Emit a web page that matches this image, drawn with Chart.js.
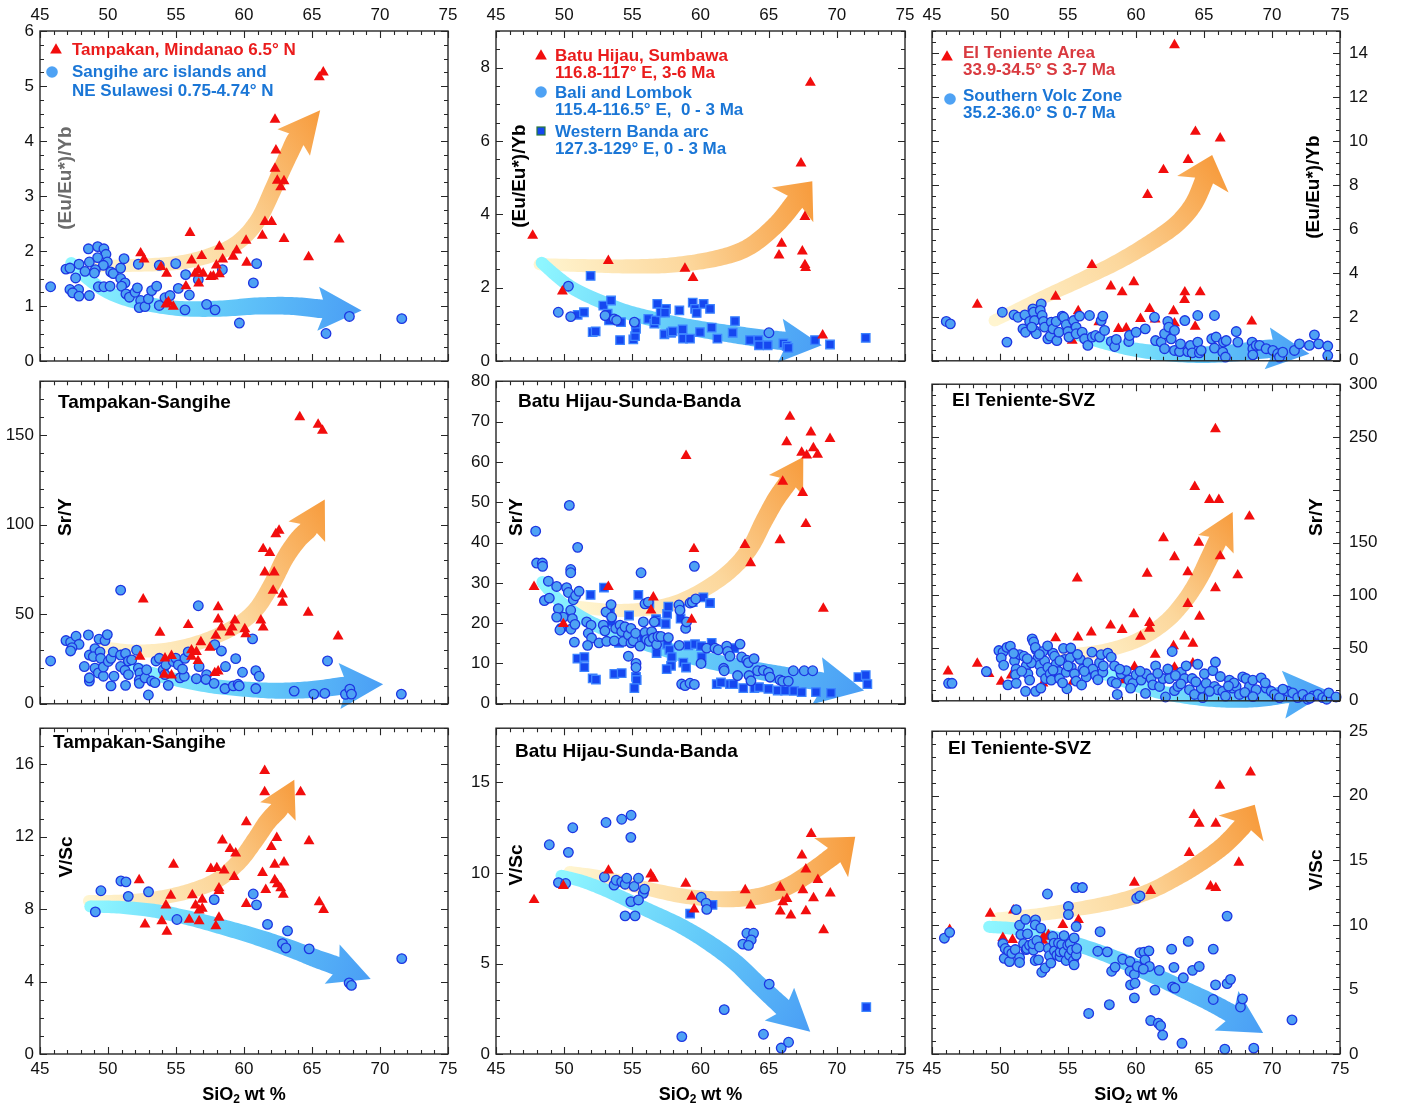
<!DOCTYPE html>
<html><head><meta charset="utf-8">
<script src="https://cdn.jsdelivr.net/npm/chart.js@4.4.1/dist/chart.umd.min.js"></script>
<style>
html,body{margin:0;padding:0;background:#fff;}
#wrap{position:relative;width:1404px;height:1107px;overflow:hidden;background:#fff;}
canvas{position:absolute;}
</style></head>
<body><div id="wrap"></div>
<script>
// ---------------- DATA ----------------
const SIO2_TICKS = [45,50,55,60,65,70,75];
const EU_TICKS_A = [0,1,2,3,4,5,6];
const EU_TICKS_B = [0,2,4,6,8];
const EU_TICKS_C = [0,2,4,6,8,10,12,14];
const SRY_TICKS_A = [0,50,100,150];
const SRY_TICKS_B = [0,10,20,30,40,50,60,70,80];
const SRY_TICKS_C = [0,50,100,150,250,300];
const VSC_TICKS_A = [0,4,8,12,16];
const VSC_TICKS_B = [0,5,10,15];
const VSC_TICKS_C = [0,5,10,15,20,25];

// (Eu/Eu*)/Yb
const tampakanEu = [[65.83,5.25],[65.54,5.16],[62.28,4.39],[62.35,3.83],[62.28,3.5],[62.45,3.28],[62.94,3.27],[62.7,3.16],[56.03,2.33],[61.54,2.53],[62.03,2.53],[61.35,2.28],[62.94,2.22],[67.0,2.21],[60.15,2.19],[58.19,2.08],[59.46,2.01],[52.4,1.96],[52.65,1.85],[56.89,1.91],[58.43,1.85],[64.75,1.89],[59.2,1.9],[56.15,1.83],[60.2,1.79],[57.97,1.74],[53.9,1.71],[56.64,1.65],[57.0,1.59],[54.31,1.59],[56.4,1.59],[57.75,1.54],[58.19,1.58],[57.55,1.53],[56.67,1.41],[55.73,1.36],[54.44,1.07],[54.26,1.03],[54.8,0.99]];
const sangiheEu = [[45.78,1.35],[46.91,1.67],[47.2,1.69],[47.87,1.76],[47.62,1.51],[48.31,1.63],[48.63,1.8],[48.56,2.04],[49.24,2.08],[49.7,2.04],[49.85,1.94],[49.24,1.88],[49.95,1.8],[49.66,1.74],[49.07,1.66],[49.0,1.6],[50.2,1.62],[50.39,1.59],[50.93,1.69],[51.18,1.86],[52.23,1.76],[47.2,1.3],[47.84,1.3],[47.4,1.24],[47.87,1.18],[48.63,1.19],[49.29,1.35],[49.7,1.35],[50.15,1.36],[50.93,1.5],[51.25,1.42],[51.0,1.36],[51.32,1.22],[51.57,1.16],[51.99,1.25],[52.16,1.33],[52.4,1.1],[52.3,0.97],[52.72,0.99],[52.97,1.13],[53.21,1.28],[53.58,1.36],[53.77,1.74],[53.77,1.01],[54.19,1.15],[54.56,1.19],[54.98,1.77],[55.17,1.32],[55.66,0.93],[55.71,1.57],[55.98,1.2],[56.64,1.48],[57.25,1.03],[57.87,0.93],[58.41,1.66],[59.66,0.69],[60.69,1.42],[60.93,1.77],[66.03,0.5],[67.75,0.81],[71.6,0.77]];
const batuEu = [[47.69,3.42],[53.24,2.73],[49.87,1.9],[58.86,2.52],[59.45,2.27],[68.06,7.59],[67.37,5.39],[67.66,3.93],[65.95,3.2],[65.76,2.88],[67.47,2.99],[67.66,2.62],[67.71,2.54],[68.96,0.7]];
const baliEu = [[49.57,1.33],[50.31,2.04],[50.48,1.21],[53.0,1.24],[53.66,1.15],[53.85,1.11],[55.15,1.06],[65.02,0.77]];
const bandaEu = [[51.94,2.32],[50.99,1.26],[51.45,1.33],[52.09,0.79],[52.31,0.81],[52.87,1.51],[53.44,1.65],[53.19,1.29],[53.29,1.11],[54.17,1.06],[54.1,0.57],[55.07,0.59],[55.2,0.68],[55.27,0.88],[55.25,1.02],[56.17,1.15],[56.61,1.02],[56.71,1.11],[56.83,1.56],[57.08,1.33],[57.47,1.42],[57.4,1.32],[57.35,0.73],[57.84,0.77],[57.96,0.81],[58.45,1.38],[58.69,0.86],[58.72,0.61],[59.23,0.61],[59.43,1.59],[59.6,1.42],[59.72,1.31],[59.96,0.79],[60.23,1.56],[60.7,1.42],[60.82,0.91],[61.24,0.61],[62.53,1.09],[62.36,0.77],[63.63,0.57],[64.24,0.57],[64.29,0.43],[64.93,0.43],[66.08,0.48],[66.32,0.41],[66.44,0.36],[68.4,0.57],[69.5,0.45],[72.12,0.63]];
const tenienteEu = [[62.83,14.36],[64.37,10.42],[66.19,10.12],[63.83,9.14],[62.02,8.68],[60.85,7.55],[56.76,4.36],[58.15,3.39],[59.84,3.58],[58.98,3.12],[54.09,2.92],[48.33,2.56],[63.59,3.12],[64.72,3.12],[63.57,2.77],[55.75,2.26],[61.0,2.36],[62.76,2.26],[60.33,1.91],[61.41,1.88],[68.51,1.79],[62.83,1.71],[57.27,1.76],[64.35,1.56],[58.71,1.45],[59.28,1.48],[55.31,0.92]];
const svzEu = [[46.05,1.79],[46.35,1.68],[50.17,2.21],[50.51,0.85],[51.03,2.09],[51.32,1.98],[51.83,2.09],[51.69,1.45],[51.88,1.3],[52.18,1.79],[52.42,2.36],[52.47,2.21],[52.54,1.83],[52.54,1.38],[52.67,1.23],[52.34,1.53],[53.03,2.59],[52.96,2.29],[53.1,2.06],[53.2,1.79],[53.28,1.53],[53.52,1.0],[53.69,1.12],[53.77,1.76],[53.89,1.45],[54.13,1.79],[54.18,0.92],[54.33,1.3],[54.58,2.03],[54.68,1.98],[54.87,1.64],[55.0,1.33],[55.07,1.08],[55.41,1.83],[55.6,1.53],[55.6,1.23],[55.85,2.03],[56.04,1.3],[56.22,1.0],[56.46,0.7],[56.58,2.06],[56.78,1.08],[57.03,1.15],[57.32,1.08],[57.44,1.83],[57.56,2.03],[57.69,1.38],[58.18,0.88],[58.43,0.65],[58.55,0.97],[59.47,0.88],[59.52,1.15],[60.01,1.3],[60.68,1.45],[61.36,1.98],[61.44,0.92],[61.85,0.85],[62.1,0.55],[62.1,1.23],[62.34,1.79],[62.41,1.53],[62.59,1.0],[62.83,1.38],[62.83,0.47],[63.2,0.42],[63.27,0.77],[63.59,1.83],[63.81,0.42],[64.0,0.7],[64.13,0.36],[64.54,0.85],[64.66,0.36],[64.79,0.47],[64.54,2.06],[65.57,1.0],[65.77,0.58],[65.89,1.08],[65.77,2.06],[66.38,0.39],[66.43,0.85],[66.63,0.92],[66.58,0.17],[67.37,1.33],[67.49,0.85],[68.54,0.85],[68.59,0.55],[68.59,0.27],[68.84,0.7],[69.08,0.7],[69.57,0.55],[70.06,0.47],[70.42,0.32],[70.55,0.17],[70.79,0.39],[71.65,0.47],[72.02,0.77],[72.75,0.7],[73.12,1.18],[73.43,0.77],[74.1,0.67],[74.1,0.24]];

// Sr/Y
const tampakanSr = [[64.1,160],[65.45,155.8],[65.77,152.5],[62.58,96.6],[62.34,94.7],[61.41,86.4],[61.9,84.2],[61.53,73.4],[62.22,73.4],[62.14,63.2],[62.83,61.1],[62.83,56.5],[52.59,58.3],[58.1,54.0],[64.72,50.9],[58.1,47.1],[59.33,46.6],[58.34,42.6],[61.24,46.6],[61.41,42.6],[59.13,42.6],[60.06,41.7],[60.13,38.9],[55.9,44.0],[53.82,39.7],[58.96,39.9],[57.93,38.0],[56.83,34.4],[57.49,31.3],[66.92,37.7],[56.14,29.9],[56.5,29.0],[52.35,26.3],[54.67,26.8],[54.19,25.4],[56.14,26.3],[56.62,23.9],[54.14,16.3],[54.67,15.9],[57.85,17.2],[58.1,18.1]];
const sangiheSr = [[45.78,23.9],[46.91,35.3],[47.25,34.4],[47.65,37.7],[47.87,33.2],[47.35,31.3],[47.25,29.5],[48.56,38.4],[49.34,36.1],[49.78,35.3],[49.95,38.6],[48.26,20.8],[48.63,27.2],[48.63,12.7],[48.63,14.5],[49.04,30.8],[48.92,26.3],[49.41,29.0],[49.46,25.4],[49.04,19.9],[49.29,17.2],[49.66,15.4],[49.66,20.5],[50.02,23.6],[50.22,25.4],[50.39,29.0],[50.44,15.4],[50.22,10.0],[50.93,63.4],[50.93,20.8],[50.93,27.2],[51.29,28.1],[51.25,18.7],[51.5,16.3],[51.5,23.9],[51.29,10.3],[51.74,24.5],[52.1,29.9],[52.23,19.9],[52.35,17.2],[52.3,13.2],[52.3,11.4],[52.72,14.5],[52.84,19.0],[52.97,4.9],[53.21,12.7],[53.45,11.8],[53.53,23.9],[53.77,25.4],[54.06,19.0],[54.19,16.3],[54.26,21.7],[54.43,10.3],[54.8,23.6],[54.98,25.5],[55.17,21.7],[55.29,14.5],[55.61,15.4],[55.48,19.4],[55.66,25.4],[55.9,29.0],[56.64,54.7],[56.5,14.0],[56.7,20.8],[57.25,16.3],[57.2,13.6],[57.8,11.4],[57.85,33.0],[58.34,29.5],[58.6,8.5],[58.64,20.8],[59.21,10.0],[59.39,25.2],[59.57,10.9],[59.65,10.0],[59.89,17.6],[60.63,36.2],[60.87,18.5],[61.12,15.4],[60.87,8.5],[63.69,7.1],[65.13,5.4],[65.94,5.8],[66.14,23.9],[67.46,5.3],[67.78,8.2],[67.9,5.4],[71.57,5.4]];
const batuSr = [[66.56,71.2],[68.1,67.3],[69.5,65.7],[66.32,64.9],[68.28,63.4],[67.42,62.3],[67.79,61.6],[68.59,61.8],[58.94,61.5],[66.03,55.1],[67.49,52.3],[67.73,44.6],[63.26,39.4],[65.83,40.6],[59.52,38.4],[63.68,34.9],[47.79,29.0],[53.24,29.0],[56.54,26.4],[56.37,23.2],[59.35,20.9],[69.01,23.6],[49.94,19.8]];
const baliSr = [[47.91,42.8],[50.38,49.2],[50.99,38.8],[47.98,34.9],[48.4,34.9],[48.42,34.1],[50.48,33.3],[50.48,32.5],[55.64,32.5],[59.55,34.1],[48.84,30.4],[48.55,25.6],[48.91,26.2],[49.45,29.1],[50.18,28.8],[50.31,27.6],[50.67,25.8],[50.84,26.8],[51.09,27.9],[49.57,23.6],[49.94,21.5],[49.45,21.5],[50.48,23.2],[50.6,21.1],[49.77,18.7],[49.69,18.3],[50.5,18.5],[50.79,19.7],[50.75,15.3],[51.65,20.3],[51.97,19.5],[51.77,17.5],[52.01,16.3],[51.72,14.5],[52.56,15.1],[52.87,19.5],[52.99,18.1],[53.07,22.8],[53.44,24.6],[53.48,21.5],[53.12,15.5],[53.68,15.6],[53.78,18.7],[54.1,19.5],[54.22,17.9],[54.34,15.5],[54.46,19.1],[54.71,17.1],[54.9,18.7],[54.9,15.1],[54.71,11.8],[55.27,10.0],[55.27,9.0],[55.07,15.6],[55.24,17.5],[55.56,14.3],[55.81,20.3],[55.93,24.8],[56.17,25.2],[55.93,17.7],[56.05,15.9],[56.25,15.5],[56.42,17.9],[56.54,16.3],[56.78,14.7],[56.61,20.3],[56.88,16.7],[57.1,16.7],[57.64,16.4],[58.42,24.5],[58.49,23.2],[58.44,14.5],[58.91,18.7],[58.98,20.3],[59.23,25.0],[59.4,25.2],[59.65,26.0],[60.04,10.0],[60.45,13.8],[61.06,13.8],[61.3,13.4],[61.7,8.8],[61.74,8.2],[61.92,14.3],[61.99,13.0],[62.16,11.8],[62.72,7.0],[62.9,14.8],[63.02,11.6],[63.39,10.8],[63.51,10.2],[63.93,11.2],[63.56,7.0],[63.7,5.7],[64.19,8.2],[64.61,8.3],[64.98,7.8],[65.1,6.6],[65.83,5.9],[66.03,5.6],[66.44,5.6],[66.81,8.2],[67.61,8.2],[68.23,8.2],[58.62,4.9],[58.87,4.5],[59.23,5.1],[59.55,4.8]];
const bandaSr = [[52.92,28.8],[51.94,27.0],[50.97,11.2],[51.48,11.6],[51.48,9.1],[52.09,6.3],[52.33,6.0],[53.68,7.4],[54.22,7.6],[53.36,22.6],[53.48,20.3],[54.02,15.1],[54.76,21.9],[55.27,6.7],[55.32,5.9],[55.15,3.9],[55.81,16.1],[55.44,27.0],[56.74,21.0],[56.78,20.3],[56.78,12.6],[56.25,24.8],[57.45,19.8],[57.55,22.3],[57.64,24.1],[57.55,14.7],[57.72,13.4],[57.89,11.6],[57.84,9.4],[57.52,8.6],[58.52,23.6],[58.54,21.1],[58.74,10.2],[58.94,9.0],[59.11,14.5],[59.6,14.8],[60.09,11.6],[60.04,14.3],[59.43,25.2],[60.21,26.4],[60.7,25.0],[60.82,15.1],[61.19,4.9],[61.5,5.3],[62.16,4.9],[62.41,4.9],[62.48,13.8],[63.14,3.9],[63.95,3.9],[64.29,4.1],[64.98,3.7],[65.66,3.3],[66.2,3.3],[66.86,3.2],[67.42,2.9],[68.47,2.9],[69.57,2.7],[71.58,6.6],[72.12,7.1],[72.24,4.9]];
const tenienteSr = [[65.84,257.5],[64.32,202.7],[65.4,190.4],[66.09,190.4],[68.34,174.7],[62.02,154.2],[64.62,150],[66.19,137],[62.83,136.1],[67.48,119],[55.68,116],[60.82,120.5],[63.81,122],[65.84,106.9],[63.81,91.9],[59.84,82.2],[64.67,79.8],[61.0,73.8],[61.0,68.4],[58.13,71.4],[58.98,67.2],[56.71,64.8],[54.09,59.3],[55.73,60.2],[60.33,60.8],[63.57,61.1],[64.18,54.2],[62.76,51.8],[61.41,43.7],[64.18,35.5],[62.83,31.6],[46.18,28.0],[48.33,35.2],[49.19,25.6],[50.09,18.1],[50.83,24.1],[53.16,16.6],[55.36,18.1],[59.11,19.6],[59.89,32.2]];
const svzSr = [[46.22,16.6],[46.47,16.6],[49.92,47.6],[50.22,46.1],[50.51,50.6],[50.76,51.8],[50.09,40.7],[50.27,33.7],[50.58,15.1],[49.0,27.7],[51.07,37.7],[51.19,30.1],[51.14,24.7],[51.19,16.6],[51.44,43.7],[51.76,42.2],[51.88,9.0],[51.93,33.1],[52.05,25.6],[52.18,19.6],[52.37,58.7],[52.47,55.7],[52.67,48.2],[52.6,50.6],[52.62,9.0],[52.79,40.7],[52.91,33.7],[53.03,27.1],[53.16,46.7],[53.28,37.7],[53.35,21.1],[53.52,31.6],[53.69,25.6],[53.77,19.6],[53.89,45.2],[54.01,42.2],[54.13,34.6],[54.33,27.7],[54.38,21.1],[54.67,49.7],[54.75,39.2],[54.87,27.1],[54.92,11.4],[55.16,40.7],[55.24,31.6],[55.48,25.6],[55.6,18.7],[55.9,39.2],[56.09,30.1],[56.34,22.6],[56.46,36.1],[56.76,46.1],[56.83,30.1],[57.03,24.1],[57.32,36.1],[57.44,43.7],[57.56,27.1],[57.93,45.2],[58.18,41.3],[58.25,18.1],[58.55,16.6],[58.62,6.0],[58.42,33.1],[58.91,25.6],[59.28,28.6],[59.47,19.6],[59.77,16.6],[60.01,24.7],[60.38,19.6],[60.75,25.6],[61.11,21.1],[61.24,15.1],[61.44,33.1],[61.73,13.6],[61.98,21.1],[62.17,3.6],[62.34,30.1],[62.46,21.1],[62.66,46.7],[62.83,9.6],[63.08,13.6],[63.32,27.1],[63.57,21.1],[63.69,33.1],[63.93,10.5],[64.13,21.1],[64.3,6.0],[64.54,34.6],[64.79,12.0],[65.03,25.6],[65.16,16.6],[65.65,28.6],[65.84,36.7],[65.77,13.6],[66.01,10.5],[66.38,9.0],[66.58,4.5],[66.87,19.6],[67.11,12.0],[67.36,13.6],[67.6,6.0],[67.85,22.6],[68.09,21.1],[68.34,13.6],[68.59,19.6],[68.83,10.5],[69.2,21.7],[69.57,12.0],[69.94,9.0],[70.18,6.0],[70.55,3.0],[71.16,9.0],[71.52,7.5],[71.89,3.0],[72.26,6.0],[72.63,1.5],[73.0,4.5],[73.37,6.0],[73.73,3.0],[74.02,1.5],[74.17,7.5],[74.71,3.6],
 [51.6,28],[52.3,36],[52.9,44],[53.5,52],[54.4,38],[55.0,33],[55.7,44],[56.2,28],[52.0,40],[53.9,29],[54.6,17],[56.0,15],[57.2,20],[58.8,30],[60.3,28],[61.6,26],[62.9,24],[64.4,18],[65.4,9],[66.2,23],[67.2,17],[68.0,8],[69.5,17],[70.8,11],[72.8,2.5],[51.0,45],[53.0,12],[55.2,50],[57.6,33],[59.6,12],[60.7,7],[63.3,16],[64.9,3],[66.8,14],[68.6,4]];

// V/Sc
const tampakanV = [[61.52,15.64],[61.52,14.47],[64.16,14.47],[60.17,12.81],[58.41,11.81],[64.78,11.76],[62.41,11.94],[58.97,11.33],[59.39,11.09],[62.01,11.45],[54.82,10.46],[57.56,10.23],[58.0,10.28],[58.54,10.14],[62.94,10.59],[62.26,10.46],[61.36,10.01],[59.28,9.79],[52.29,9.61],[62.26,9.61],[62.45,9.38],[62.7,9.16],[61.6,9.07],[58.16,9.16],[62.89,8.8],[58.16,9.02],[56.2,8.78],[56.93,8.53],[54.62,8.75],[60.17,8.3],[56.44,8.21],[65.53,8.39],[65.85,7.97],[54.26,8.21],[56.93,8.03],[56.7,7.94],[58.16,7.54],[55.97,7.43],[56.7,7.34],[53.96,7.34],[52.72,7.16],[57.93,7.07],[54.33,6.76]];
const sangiheV = [[49.07,7.85],[49.48,9.02],[50.95,9.56],[51.32,9.51],[51.49,8.71],[52.98,8.96],[55.07,7.43],[57.81,8.53],[60.68,8.84],[60.92,8.24],[61.73,7.16],[63.2,6.8],[62.83,6.1],[63.08,5.86],[64.79,5.81],[67.73,3.93],[67.9,3.79],[71.6,5.27]];
const batuV = [[47.79,8.51],[49.94,9.29],[53.25,10.14],[56.35,9.93],[56.54,9.69],[58.92,9.42],[59.36,8.7],[59.53,7.99],[63.28,9.06],[63.69,8.21],[65.85,9.2],[66.04,8.39],[65.85,7.88],[66.34,8.57],[66.63,7.66],[67.44,10.98],[67.51,9.06],[67.73,10.2],[67.73,7.9],[68.12,12.16],[68.29,8.62],[68.61,9.62],[69.52,8.88],[69.03,6.85]];
const baliV = [[48.91,11.56],[49.58,9.47],[50.11,9.42],[50.31,11.14],[50.63,12.5],[53.07,12.79],[54.22,12.97],[54.91,13.19],[54.89,11.97],[52.95,9.78],[53.66,9.33],[53.81,9.6],[54.22,9.51],[54.47,9.38],[54.59,9.71],[55.13,9.26],[55.45,9.71],[55.81,8.88],[55.89,9.11],[54.89,8.42],[55.45,8.51],[54.47,7.63],[55.2,7.63],[60.05,8.66],[60.41,8.33],[60.46,7.99],[63.11,6.07],[63.4,6.67],[63.89,6.67],[63.72,6.3],[63.52,6.0],[65.04,3.86],[61.74,2.45],[58.63,0.96],[64.62,1.09],[65.92,0.33],[66.46,0.65]];
const bandaV = [[59.24,7.75],[60.88,8.24],[72.16,2.59]];
const tenienteV = [[68.42,21.81],[66.17,20.78],[64.26,18.52],[64.65,17.84],[65.87,17.84],[63.91,15.58],[67.56,14.82],[59.88,13.27],[61.08,12.64],[65.48,12.99],[65.87,12.86],[49.28,10.88],[50.99,11.13],[55.77,10.38],[54.62,10.0],[46.3,9.62],[50.21,8.99],[50.92,8.84],[53.2,9.1],[53.56,9.22],[53.15,8.79]];
const svzV = [[45.91,8.97],[46.3,9.42],[50.21,8.54],[50.31,7.41],[50.7,7.16],[50.38,8.17],[50.63,7.99],[50.87,7.79],[51.19,11.18],[51.12,8.09],[51.44,9.97],[51.44,7.46],[51.44,7.09],[51.53,9.25],[51.73,8.54],[51.92,8.09],[51.88,10.43],[52.02,9.3],[51.97,8.17],[52.17,8.42],[52.46,8.04],[52.41,8.54],[52.61,10.38],[52.59,10.0],[52.59,7.24],[52.83,7.29],[52.71,8.79],[52.9,8.29],[53.0,9.75],[53.07,6.33],[53.32,6.66],[53.49,12.39],[53.56,8.17],[53.64,7.61],[53.74,7.04],[53.88,9.1],[53.98,8.59],[54.0,7.99],[54.18,7.66],[54.3,8.59],[54.42,7.54],[54.42,7.91],[54.54,8.47],[54.71,9.17],[54.71,7.91],[54.86,7.24],[54.98,8.42],[55.03,11.43],[55.03,10.8],[55.1,7.66],[55.15,8.54],[55.28,8.04],[55.4,7.24],[55.45,6.91],[55.45,8.99],[55.6,7.66],[55.64,8.17],[55.59,12.89],[56.06,12.89],[55.6,9.87],[57.36,9.47],[57.19,7.96],[57.89,7.91],[58.04,3.82],[56.52,3.14],[58.21,6.41],[58.46,6.73],[59.02,7.34],[59.56,7.16],[59.56,6.41],[59.6,5.35],[59.88,6.16],[59.93,5.48],[59.88,4.35],[60.05,12.06],[60.29,12.24],[60.1,6.78],[60.29,7.84],[60.59,7.89],[60.66,7.29],[60.95,7.99],[60.98,6.78],[60.54,6.58],[61.08,2.59],[61.39,4.95],[61.71,6.48],[61.64,2.39],[61.81,2.19],[61.96,1.46],[62.62,8.12],[62.79,6.71],[62.69,5.2],[62.86,5.1],[63.38,0.83],[63.48,5.9],[63.84,8.72],[64.16,6.48],[64.65,6.78],[65.68,8.12],[65.68,4.22],[65.85,5.35],[66.7,10.68],[66.53,0.38],[66.7,5.45],[66.95,5.78],[67.68,3.64],[67.83,4.27],[68.66,0.45],[71.47,2.64]];

// Trend arrows: centre-line points (SiO2, value); the last two points are head base and tip
const tampakanEuTrend = [[49.2,1.72],[52,1.74],[55,1.78],[57.5,1.92],[59.5,2.15],[61,2.55],[62.1,3.1],[63.0,3.6],[63.75,4.0],[65.6,4.56]];
const sangiheEuTrend = [[47.3,1.78],[48.5,1.5],[50,1.25],[52,1.08],[55,0.96],[58,0.95],[61,1.0],[63.5,1.0],[65.6,0.95],[68.65,0.92]];
const batuEuTrend = [[48.2,2.64],[51.5,2.6],[55,2.58],[58,2.62],[61.2,2.8],[63.5,3.1],[65.5,3.7],[66.85,4.3],[68.2,4.9]];
const baliEuTrend = [[48.35,2.68],[49.5,2.3],[50.8,1.95],[52.5,1.65],[54.5,1.35],[57,1.1],[59.5,0.9],[62,0.75],[64.2,0.63],[66.0,0.55],[68.9,0.43]];
const tenienteEuTrend = [[49.6,1.83],[52.5,2.7],[55.5,3.55],[58.5,4.45],[61,5.35],[62.95,6.2],[64.2,7.1],[64.96,8.12],[65.6,9.36]];
const svzEuTrend = [[55.4,1.25],[57.5,0.85],[60,0.5],[63,0.3],[66,0.3],[69.8,0.55],[72.75,0.32]];
const tampakanSrTrend = [[49.6,31.5],[52,29.5],[54.5,30.5],[57,35],[59.2,42.5],[60.8,52],[62,66],[63.0,81],[63.9,91],[64.69,97],[65.94,114]];
const sangiheSrTrend = [[51.4,21.5],[53,17.5],[55,13.5],[57.5,10],[60,8.2],[62.5,7.3],[65,8],[67.17,10],[70.23,10.9]];
const batuSrTrend = [[51.1,24],[53.5,23.2],[56,23.5],[58.5,25.5],[60.8,29.5],[62.5,34],[63.7,39],[64.6,45],[65.5,50.5],[66.35,54.6],[67.54,61.2]];
const baliSrTrend = [[48.4,30.2],[49.5,26],[51,22],[53,18.5],[55.5,15.5],[58.5,12.5],[61.5,10],[64.5,8],[66.8,6.6],[68.7,5.6],[72.0,3.3]];
const tenienteSrTrend = [[54.6,43],[57.8,48],[60.2,58],[62.2,75],[63.6,95],[64.6,115],[65.3,133],[65.94,150],[67.11,179]];
const svzSrTrend = [[57.8,25],[59.5,17],[61.5,9],[64,3.5],[66.5,1],[69,2],[71.0,6],[74.2,9]];
const tampakanVTrend = [[48.6,8.45],[51,8.45],[53.5,8.6],[56,9.0],[58,9.6],[59.6,10.6],[60.8,11.8],[61.7,12.8],[62.56,13.5],[63.7,15.15]];
const sangiheVTrend = [[48.7,8.15],[51,8.1],[53.5,7.9],[56,7.5],[58.5,7.0],[61,6.45],[63.5,5.8],[65.2,5.3],[66.62,4.92],[69.32,4.15]];
const batuVTrend = [[50.4,10.05],[53,9.75],[56,9.15],[59,8.7],[62,8.55],[64.5,8.75],[66.5,9.3],[68.2,10.1],[69.69,10.92],[71.35,12.0]];
const baliVTrend = [[49.8,9.85],[51.5,9.5],[53.5,8.9],[56,8.0],[58.5,7.1],[60.5,6.2],[62.5,5.1],[64.3,3.8],[65.9,2.68],[68.05,1.23]];
const tenienteVTrend = [[49.8,10.5],[52.5,10.75],[55.5,11.2],[58.5,11.8],[61,12.6],[63.2,13.8],[65,15.0],[66.5,16.2],[67.8,17.6],[68.73,19.3]];
const svzVTrend = [[49.2,9.85],[51.5,9.65],[54,9.0],[56.5,8.2],[59,7.2],[61.5,6.0],[63.5,5.0],[65.3,4.1],[66.78,3.27],[69.35,1.63]];

// ---------------- STYLE / LAYOUT ----------------
const FONT = "'Liberation Sans', Arial, Helvetica, sans-serif";
const RED = '#f20d0d', CF = '#4ea2f4', CE = '#1d36e2', SF = '#1547f0', SE = '#3d84ff';
const ORANGE = ['#fff5d0', '#fcd79c', '#f79b3c'];
const BLUE = ['#8ef6ff', '#64cbf9', '#4a9ef5'];
const ROWS = [
  {top:0,   h:380, padTop:0,  padBottom:19, xpos:'top',    xh:31},
  {top:365, h:355, padTop:12, padBottom:12, xpos:'none',   xh:0},
  {top:712, h:395, padTop:10, padBottom:0,  xpos:'bottom', xh:53}
];
const COLS = [
  {left:0,   w:470, padLeft:0,  padRight:22, ypos:'left',  yw:40},
  {left:455, w:470, padLeft:0,  padRight:20, ypos:'left',  yw:41},
  {left:915, w:489, padLeft:17, padRight:0,  ypos:'right', yw:64}
];

const LRED = '#ea1c1c', LBLUE = '#1a76d6', LRED3 = '#d93a40';
const PANELS = [
  {row:0,col:0,ymin:0,ymax:6,labels:EU_TICKS_A,major:1,minor:0.25,
   sets:[[tampakanEu,'tri'],[sangiheEu,'circ']], topFirst:'tri',
   arrows:[[tampakanEuTrend,ORANGE,12,19,42],[sangiheEuTrend,BLUE,12,19,44]],
   ytitle:['(Eu/Eu*)/Yb',66,178,'#6b6b6b'],
   legend:[['tri',56,50,LRED,[['Tampakan, Mindanao 6.5° N',72,50]]],
           ['circ',52,72,LBLUE,[['Sangihe arc islands and',72,72],['NE Sulawesi 0.75-4.74° N',72,91]]]]},
  {row:0,col:1,ymin:0,ymax:9,labels:EU_TICKS_B,major:2,minor:0.5,
   sets:[[batuEu,'tri'],[baliEu,'circ'],[bandaEu,'sq']], topFirst:'tri',
   arrows:[[batuEuTrend,ORANGE,12,19,54],[baliEuTrend,BLUE,12,19,44]],
   ytitle:['(Eu/Eu*)/Yb',520,176,'#000'],
   legend:[['tri',541,56,LRED,[['Batu Hijau, Sumbawa',555,56],['116.8-117° E, 3-6 Ma',555,73]]],
           ['circ',541,92,LBLUE,[['Bali and Lombok',555,93],['115.4-116.5° E,  0 - 3 Ma',555,110]]],
           ['sq',541,131,LBLUE,[['Western Banda arc',555,132],['127.3-129° E, 0 - 3 Ma',555,149]]]]},
  {row:0,col:2,ymin:0,ymax:15,labels:EU_TICKS_C,major:2,minor:0.5,
   sets:[[tenienteEu,'tri'],[svzEu,'circ']], topFirst:'circ',
   arrows:[[tenienteEuTrend,ORANGE,12,19,54],[svzEuTrend,BLUE,12,19,42]],
   ytitle:['(Eu/Eu*)/Yb',1314,187,'#000'],
   legend:[['tri',947,57,LRED3,[['El Teniente Area',963,53],['33.9-34.5° S 3-7 Ma',963,70]]],
           ['circ',950,99,LBLUE,[['Southern Volc Zone',963,96],['35.2-36.0° S 0-7 Ma',963,113]]]]},
  {row:1,col:0,ymin:0,ymax:180,labels:SRY_TICKS_A,major:50,minor:10,
   sets:[[tampakanSr,'tri'],[sangiheSr,'circ']], topFirst:'tri',
   arrows:[[tampakanSrTrend,ORANGE,12,19,42],[sangiheSrTrend,BLUE,12,18,46]],
   ytitle:['Sr/Y',66,517,'#000'], title:['Tampakan-Sangihe',58,403]},
  {row:1,col:1,ymin:0,ymax:80,labels:SRY_TICKS_B,major:10,minor:5,
   sets:[[batuSr,'tri'],[baliSr,'circ'],[bandaSr,'sq']], topFirst:'tri',
   arrows:[[batuSrTrend,ORANGE,12,19,40],[baliSrTrend,BLUE,12,19,48]],
   ytitle:['Sr/Y',517,517,'#000'], title:['Batu Hijau-Sunda-Banda',518,402]},
  {row:1,col:2,ymin:0,ymax:300,labels:SRY_TICKS_C,major:50,minor:10,
   sets:[[tenienteSr,'tri'],[svzSr,'circ']], topFirst:'circ',
   arrows:[[tenienteSrTrend,ORANGE,12,19,40],[svzSrTrend,BLUE,12,18,48]],
   ytitle:['Sr/Y',1317,517,'#000'], title:['El Teniente-SVZ',952,401]},
  {row:2,col:0,ymin:0,ymax:18,labels:VSC_TICKS_A,major:4,minor:1,
   sets:[[tampakanV,'tri'],[sangiheV,'circ']], topFirst:'tri',
   arrows:[[tampakanVTrend,ORANGE,12,19,40],[sangiheVTrend,BLUE,12,19,42]],
   ytitle:['V/Sc',67,857,'#000'], title:['Tampakan-Sangihe',53,743]},
  {row:2,col:1,ymin:0,ymax:18,labels:VSC_TICKS_B,major:5,minor:1,
   sets:[[batuV,'tri'],[baliV,'circ'],[bandaV,'sq']], topFirst:'tri',
   arrows:[[batuVTrend,ORANGE,12,19,52],[baliVTrend,BLUE,12,19,44]],
   ytitle:['V/Sc',517,865,'#000'], title:['Batu Hijau-Sunda-Banda',515,752]},
  {row:2,col:2,ymin:0,ymax:25,labels:VSC_TICKS_C,major:5,minor:1,
   sets:[[tenienteV,'tri'],[svzV,'circ']], topFirst:'circ',
   arrows:[[tenienteVTrend,ORANGE,12,19,52],[svzVTrend,BLUE,12,19,46]],
   ytitle:['V/Sc',1317,870,'#000'], title:['El Teniente-SVZ',948,749]}
];

// ---------------- DRAW HELPERS ----------------
function catmull(pts){
  const out=[];
  for(let i=0;i<pts.length-1;i++){
    const p0=pts[Math.max(0,i-1)],p1=pts[i],p2=pts[i+1],p3=pts[Math.min(pts.length-1,i+2)];
    for(let k=0;k<14;k++){
      const t=k/14,t2=t*t,t3=t2*t;
      const f=(a,b,c,d)=>0.5*((2*b)+(-a+c)*t+(2*a-5*b+4*c-d)*t2+(-a+3*b-3*c+d)*t3);
      out.push([f(p0[0],p1[0],p2[0],p3[0]),f(p0[1],p1[1],p2[1],p3[1])]);
    }
  }
  out.push(pts[pts.length-1]);
  return out;
}
function drawArrow(ctx,xs,ys,spec){
  const [path,cols,w0,w1,headW]=spec;
  const P=path.map(([x,y])=>[xs.getPixelForValue(x),ys.getPixelForValue(y)]);
  const tip=P[P.length-1], base=P[P.length-2];
  let dx=tip[0]-base[0], dy=tip[1]-base[1]; const L=Math.hypot(dx,dy); const ux=dx/L, uy=dy/L;
  const shaft=P.slice(0,-1);
  const S=catmull(shaft);
  S.push([base[0]+ux*L*0.3, base[1]+uy*L*0.3]);
  const cum=[0]; for(let i=1;i<S.length;i++) cum.push(cum[i-1]+Math.hypot(S[i][0]-S[i-1][0],S[i][1]-S[i-1][1]));
  const tot=cum[cum.length-1];
  const Lp=[],Rp=[];
  for(let i=0;i<S.length;i++){
    const a=S[Math.max(0,i-1)], b=S[Math.min(S.length-1,i+1)];
    let tx=b[0]-a[0], ty=b[1]-a[1]; const tl=Math.hypot(tx,ty)||1; tx/=tl; ty/=tl;
    const w=(w0+(w1-w0)*cum[i]/tot)/2;
    Lp.push([S[i][0]-ty*w, S[i][1]+tx*w]); Rp.push([S[i][0]+ty*w, S[i][1]-tx*w]);
  }
  const g=ctx.createLinearGradient(P[0][0],P[0][1],tip[0],tip[1]);
  g.addColorStop(0,cols[0]); g.addColorStop(0.5,cols[1]); g.addColorStop(1,cols[2]);
  ctx.save(); ctx.fillStyle=g;
  ctx.beginPath(); ctx.moveTo(Lp[0][0],Lp[0][1]);
  for(let i=1;i<Lp.length;i++) ctx.lineTo(Lp[i][0],Lp[i][1]);
  for(let i=Rp.length-1;i>=0;i--) ctx.lineTo(Rp[i][0],Rp[i][1]);
  ctx.closePath(); ctx.fill();
  ctx.beginPath(); ctx.arc(S[0][0],S[0][1],w0/2,0,Math.PI*2); ctx.fill();
  const nx=-uy, ny=ux, hw=headW/2;
  ctx.beginPath(); ctx.moveTo(tip[0],tip[1]);
  ctx.lineTo(base[0]+nx*hw-ux*2, base[1]+ny*hw-uy*2);
  ctx.lineTo(base[0]+ux*L*0.14, base[1]+uy*L*0.14);
  ctx.lineTo(base[0]-nx*hw-ux*2, base[1]-ny*hw-uy*2);
  ctx.closePath(); ctx.fill();
  ctx.restore();
}
function marker(ctx,kind,x,y){
  ctx.save();
  if(kind==='tri'){ ctx.fillStyle=RED; const r=6.8; ctx.beginPath(); ctx.moveTo(x,y-r); ctx.lineTo(x+r*0.866,y+r*0.5); ctx.lineTo(x-r*0.866,y+r*0.5); ctx.closePath(); ctx.fill(); }
  else if(kind==='circ'){ ctx.fillStyle=CF; ctx.beginPath(); ctx.arc(x,y,5.8,0,Math.PI*2); ctx.fill(); }
  else { ctx.fillStyle=SF; ctx.strokeStyle='#2a7a3a'; ctx.lineWidth=1.2; ctx.fillRect(x-4,y-4,8,8); ctx.strokeRect(x-4,y-4,8,8); }
  ctx.restore();
}
function makeDeco(pn,ox,oy){
  return {
    id:'deco',
    beforeDatasetsDraw(chart){
      const ctx=chart.ctx, xs=chart.scales.x, ys=chart.scales.y;
      pn.arrows.forEach(a=>drawArrow(ctx,xs,ys,a));
    },
    afterDatasetsDraw(chart){
      const ctx=chart.ctx, xs=chart.scales.x, ys=chart.scales.y, ca=chart.chartArea;
      ctx.save();
      ctx.strokeStyle='#262626'; ctx.lineWidth=1.4;
      ctx.strokeRect(ca.left,ca.top,ca.right-ca.left,ca.bottom-ca.top);
      ctx.lineWidth=1.1; ctx.beginPath();
      for(let i=0;i<=30;i++){
        const v=45+i, px=Math.round(xs.getPixelForValue(v))+0.5, len=(v%5===0)?7:4;
        ctx.moveTo(px,ca.top); ctx.lineTo(px,ca.top+len);
        ctx.moveTo(px,ca.bottom); ctx.lineTo(px,ca.bottom-len);
      }
      const n=Math.round((pn.ymax-pn.ymin)/pn.minor);
      for(let i=0;i<=n;i++){
        const v=pn.ymin+i*pn.minor, q=v/pn.major, isMaj=Math.abs(q-Math.round(q))<1e-6;
        const py=Math.round(ys.getPixelForValue(v))+0.5, len=isMaj?7:4;
        ctx.moveTo(ca.left,py); ctx.lineTo(ca.left+len,py);
        ctx.moveTo(ca.right,py); ctx.lineTo(ca.right-len,py);
      }
      ctx.stroke();
      const [tt,tx,ty,tc]=pn.ytitle;
      ctx.save(); ctx.translate(tx-ox,ty-oy); ctx.rotate(-Math.PI/2);
      ctx.font='bold 19px '+FONT; ctx.fillStyle=tc; ctx.textAlign='center'; ctx.textBaseline='middle';
      ctx.fillText(tt,0,0); ctx.restore();
      if(pn.title){
        ctx.font='bold 19px '+FONT; ctx.fillStyle='#000'; ctx.textAlign='left'; ctx.textBaseline='middle';
        ctx.fillText(pn.title[0],pn.title[1]-ox,pn.title[2]-oy);
      }
      if(pn.legend){
        pn.legend.forEach(([k,mx,my,col,lines])=>{
          marker(ctx,k,mx-ox,my-oy);
          ctx.font='bold 17px '+FONT; ctx.fillStyle=col; ctx.textAlign='left'; ctx.textBaseline='middle';
          lines.forEach(([s,x,y])=>ctx.fillText(s,x-ox,y-oy));
        });
      }
      if(pn.row===2){
        const cx=(ca.left+ca.right)/2, y=1095-oy;
        ctx.font='bold 18px '+FONT; ctx.fillStyle='#000'; ctx.textBaseline='middle'; ctx.textAlign='left';
        const w1=ctx.measureText('SiO').width;
        ctx.font='bold 12px '+FONT; const w2=ctx.measureText('2').width;
        ctx.font='bold 18px '+FONT; const w3=ctx.measureText(' wt %').width;
        let x=cx-(w1+w2+w3)/2;
        ctx.fillText('SiO',x,y); x+=w1;
        ctx.font='bold 12px '+FONT; ctx.fillText('2',x,y+5); x+=w2;
        ctx.font='bold 18px '+FONT; ctx.fillText(' wt %',x,y);
      }
      ctx.restore();
    }
  };
}

// ---------------- BUILD CHARTS ----------------
const wrap=document.getElementById('wrap');
const STYLE={
  tri:{pointStyle:'triangle',pointRadius:6.3,backgroundColor:RED,borderColor:RED,borderWidth:0},
  circ:{pointStyle:'circle',pointRadius:4.8,backgroundColor:CF,borderColor:CE,borderWidth:1.3},
  sq:{pointStyle:'rect',pointRadius:6,backgroundColor:SF,borderColor:SE,borderWidth:1.3}
};
PANELS.forEach((pn,idx)=>{
  const R=ROWS[pn.row], C=COLS[pn.col];
  const cv=document.createElement('canvas');
  cv.width=C.w; cv.height=R.h; cv.style.left=C.left+'px'; cv.style.top=R.top+'px';
  cv.style.width=C.w+'px'; cv.style.height=R.h+'px';
  wrap.appendChild(cv);
  const datasets=pn.sets.map(([pts,kind])=>Object.assign({
    data:pts.map(([x,y])=>({x,y})), showLine:false, clip:false,
    pointHoverRadius:0, order:(kind===pn.topFirst)?0:(kind==='sq'?2:1)
  },STYLE[kind]));
  const tickFont={family:FONT,size:17};
  new Chart(cv,{
    type:'scatter',
    data:{datasets},
    options:{
      responsive:false, animation:false, devicePixelRatio:1,
      events:[],
      layout:{padding:{left:C.padLeft,right:C.padRight,top:R.padTop,bottom:R.padBottom}},
      plugins:{legend:{display:false},tooltip:{enabled:false}},
      scales:{
        x:{type:'linear',min:45,max:75,position:R.xpos==='none'?'bottom':R.xpos,display:R.xpos!=='none',
           afterBuildTicks:s=>{s.ticks=SIO2_TICKS.map(v=>({value:v}));},
           afterFit:s=>{s.height=R.xh;},
           grid:{display:false,drawTicks:false},border:{display:false},
           ticks:{padding:5,color:'#111',font:tickFont,maxRotation:0,autoSkip:false}},
        y:{type:'linear',min:pn.ymin,max:pn.ymax,position:C.ypos,
           afterBuildTicks:s=>{s.ticks=pn.labels.map(v=>({value:v}));},
           afterFit:s=>{s.width=C.yw;},
           grid:{display:false,drawTicks:false},border:{display:false},
           ticks:{padding:C.ypos==='left'?6:9,color:'#111',font:tickFont,autoSkip:false}}
      }
    },
    plugins:[makeDeco(pn,C.left,R.top)]
  });
});
</script>
</body></html>
